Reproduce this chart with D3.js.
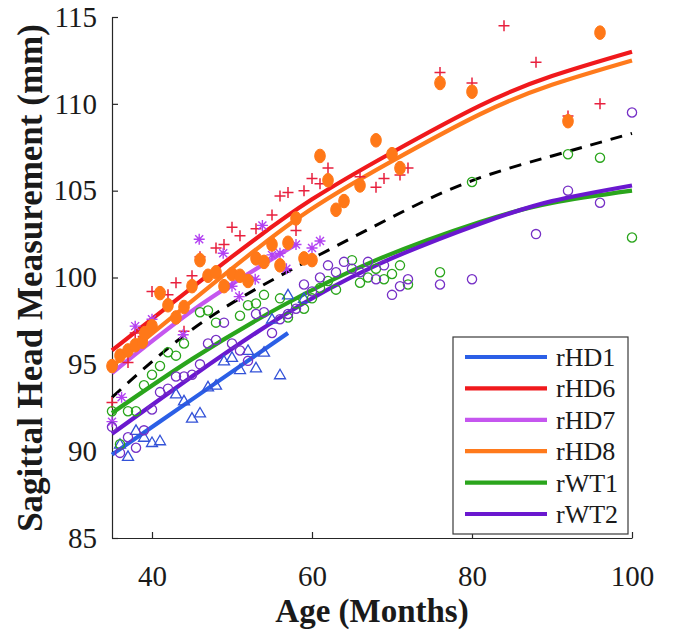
<!DOCTYPE html>
<html><head><meta charset="utf-8">
<script src="https://cdn.jsdelivr.net/npm/d3@7"></script>
<style>body{margin:0;background:#fff}</style>
</head><body>
<svg id="c" width="683" height="631"></svg>
<script>
// ---------- data ----------
const xTicks = [40, 60, 80, 100];
const yTicks = [85, 90, 95, 100, 105, 110, 115];
const legendLabels = ["rHD1", "rHD6", "rHD7", "rHD8", "rWT1", "rWT2"];

// measurements (age in months, sagittal head size in mm)
const rHD1Age  = [36,37,38,39,40,41,43,44,45,46,47,48,49,50,51,52,53,54,55,56,57,59];
const rHD1Size = [90.4,89.7,91.2,90.8,90.5,90.6,93.3,92.9,91.9,92.2,93.7,93.8,95.2,95.4,94.7,95.8,94.8,95.7,97.6,94.4,99.0,98.8];

const rHD6Age  = [35,37,37.9,38.9,40,41,42,43,44,45,46,48,49,50,51,53,55,56,57,58,59,60,61,62,66,68,69,71,72,76,80,84,88,92,96];
const rHD6Size = [92.8,95.1,96.8,96.6,99.2,99.2,99.0,99.7,96.9,100.1,101.2,101.7,101.9,102.9,102.4,102.8,103.6,104.7,104.9,102.7,105.0,105.7,105.4,106.3,105.8,105.2,105.7,105.9,106.3,111.8,111.2,114.5,112.4,109.3,110.0];

const rHD7Age  = [35,36.2,37.9,40,43.9,45.9,48.9,50,50.9,52.9,53.8,55,56,56.8,58,60,61];
const rHD7Size = [91.7,93.1,97.2,97.6,96.7,102.2,101.4,99.5,98.9,99.9,103.0,101.3,101.4,100.5,101.9,101.7,102.1];

const rHD8Age  = [35,36,37,37.9,38.8,39.1,40,41,42,43,44,45,46,47,48,49,50,51,52,53,54,55,56,57,58,59,60,61,62,63,64,66,68,70,71,76,80,92,96];
const rHD8Size = [94.9,95.5,95.8,96.1,96.3,96.8,97.2,99.1,98.4,97.7,98.3,99.5,101.0,100.1,100.3,99.5,100.2,100.1,99.8,101.1,100.9,101.9,100.7,102.0,103.4,101.1,101.0,107.0,105.6,103.9,104.4,105.3,107.9,107.1,106.3,111.2,110.7,109.0,114.1];

const rWT1Age  = [35,36,37,38,39,40,41,42,43,44,46,47,48,51,52,53,54,56,57,58,59,60,61,62,63,65,66,67,68,69,70,71,72,76,80,92,96,100];
const rWT1Size = [92.3,90.4,92.3,92.3,93.8,94.4,94.9,95.7,95.5,96.2,98.0,98.1,97.4,97.8,98.4,98.5,99.0,98.8,97.7,98.5,98.2,98.8,99.4,99.8,99.3,101.0,99.7,100.0,100.5,99.9,100.2,100.7,99.6,100.3,105.5,107.1,106.9,102.3];

const rWT2Age  = [35,36,37,38,39,40,41,42,43,44,45,46,47,48,49,50,51,52,53,54,55,56,57,58,59,60,61,62,63,64,65,66,67,68,69,70,71,72,76,80,88,92,96,100];
const rWT2Size = [91.4,89.9,90.8,90.2,91.2,92.4,93.4,93.6,94.3,94.3,94.4,95.0,96.2,96.4,97.4,96.2,95.8,95.2,97.9,98.0,96.8,97.6,97.9,98.2,99.6,99.2,100.0,100.7,100.3,100.9,100.5,100.3,100.9,99.9,100.7,99.0,99.5,99.9,99.6,99.9,102.5,105.0,104.3,109.5];

// fitted growth curves (sampled from the figure)
const rHD1FitAge  = [35, 46, 57];
const rHD1FitSize = [89.8, 93.3, 96.8];
const rHD6FitAge  = [35, 50, 60, 70, 81, 90, 100];
const rHD6FitSize = [95.8, 101.2, 104.5, 107.2, 109.9, 111.6, 113.0];
const rHD7FitAge  = [35, 46, 58];
const rHD7FitSize = [94.5, 98.4, 101.9];
const rHD8FitAge  = [35, 47, 58.5, 70, 81, 90, 100];
const rHD8FitSize = [94.9, 99.4, 103.5, 106.7, 109.4, 111.1, 112.5];
const rWT1FitAge  = [35, 45, 56, 68, 81, 90, 100];
const rWT1FitSize = [92.2, 95.3, 98.3, 101.0, 103.2, 104.3, 105.0];
const rWT2FitAge  = [35, 45, 56, 68, 81, 90, 100];
const rWT2FitSize = [91.0, 94.3, 97.7, 100.7, 103.1, 104.4, 105.3];
const allFitAge   = [35, 45, 56, 68, 79, 90, 100];
const allFitSize  = [93.1, 97.0, 100.1, 103.0, 105.4, 107.0, 108.3];

// ---------- layout ----------
const x = d3.scaleLinear().domain([35, 100]).range([112, 632]);
const y = d3.scaleLinear().domain([85, 115]).range([538, 17]);
const svg = d3.select("#c");
const serif = "Liberation Serif, Times New Roman, serif";

const zip = (a, b) => a.map((v, i) => [v, b[i]]);
const series = [
  {name: "rHD1", line: "#2b5fe6", mark: "#3352d8", shape: "tri",   pts: zip(rHD1Age, rHD1Size), fit: zip(rHD1FitAge, rHD1FitSize)},
  {name: "rHD6", line: "#f0191c", mark: "#e8203e", shape: "plus",  pts: zip(rHD6Age, rHD6Size), fit: zip(rHD6FitAge, rHD6FitSize)},
  {name: "rHD7", line: "#c556ef", mark: "#b342f2", shape: "star",  pts: zip(rHD7Age, rHD7Size), fit: zip(rHD7FitAge, rHD7FitSize)},
  {name: "rHD8", line: "#ff7a1c", mark: "#ff7818", shape: "blob",  pts: zip(rHD8Age, rHD8Size), fit: zip(rHD8FitAge, rHD8FitSize)},
  {name: "rWT1", line: "#2aa51c", mark: "#2aa51c", shape: "circ",  pts: zip(rWT1Age, rWT1Size), fit: zip(rWT1FitAge, rWT1FitSize)},
  {name: "rWT2", line: "#6a18cf", mark: "#7630c6", shape: "circ",  pts: zip(rWT2Age, rWT2Size), fit: zip(rWT2FitAge, rWT2FitSize)}
];

// ---------- axes ----------
const xAxis = d3.axisBottom(x).tickValues(xTicks).tickSize(-6).tickSizeOuter(0).tickPadding(27);
const yAxis = d3.axisLeft(y).tickValues(yTicks).tickSize(-6).tickSizeOuter(0).tickPadding(15);
const gx = svg.append("g").attr("transform", "translate(0,538)").call(xAxis);
const gy = svg.append("g").attr("transform", "translate(112,0)").call(yAxis);
[gx, gy].forEach(g => {
  g.attr("font-family", serif).attr("font-size", 29);
  g.select(".domain").attr("stroke", "#262626").attr("stroke-width", 1.2);
  g.selectAll(".tick line").attr("stroke", "#262626").attr("stroke-width", 1.2);
  g.selectAll(".tick text").attr("fill", "#1a1a1a").style("font-family", serif).style("font-size", "29px");
});

// ---------- fitted lines ----------
const lineGen = d3.line().x(d => x(d[0])).y(d => y(d[1])).curve(d3.curveNatural);
const gLines = svg.append("g");
gLines.append("path").datum(zip(allFitAge, allFitSize))
  .attr("d", lineGen).attr("fill", "none").attr("stroke", "#000")
  .attr("stroke-width", 3).attr("stroke-dasharray", "12,9");
series.forEach(s => {
  gLines.append("path").datum(s.fit).attr("d", lineGen)
    .attr("fill", "none").attr("stroke", s.line).attr("stroke-width", 4.2).attr("stroke-linecap", "butt");
});

// ---------- markers ----------
const gPts = svg.append("g");
series.forEach(s => {
  const g = gPts.append("g");
  const sel = g.selectAll("g").data(s.pts).enter().append("g")
    .attr("transform", d => `translate(${x(d[0])},${y(d[1])})`);
  if (s.shape === "tri") {
    sel.append("path").attr("d", "M0,-5.5L5.5,4L-5.5,4Z").attr("fill", "none").attr("stroke", s.mark).attr("stroke-width", 1.3);
  } else if (s.shape === "plus") {
    sel.append("path").attr("d", "M-5.5,0H5.5M0,-5.5V5.5").attr("stroke", s.mark).attr("stroke-width", 1.5);
  } else if (s.shape === "star") {
    sel.append("path").attr("d", "M-5.5,0H5.5M0,-5.5V5.5M-4,-4L4,4M-4,4L4,-4").attr("stroke", s.mark).attr("stroke-width", 1.4);
  } else if (s.shape === "blob") {
    sel.append("ellipse").attr("rx", 5.3).attr("ry", 6.8).attr("fill", s.mark).attr("stroke", s.mark).attr("stroke-width", 1);
  } else {
    sel.append("circle").attr("r", 4.6).attr("fill", "none").attr("stroke", s.mark).attr("stroke-width", 1.3);
  }
});

// ---------- axis titles ----------
svg.append("text").attr("x", 372).attr("y", 622).attr("text-anchor", "middle")
  .style("font-family", serif).attr("font-weight", "bold").attr("font-size", 33).attr("fill", "#1a1a1a")
  .text("Age (Months)");
svg.append("text").attr("transform", "translate(42,278) rotate(-90)").attr("text-anchor", "middle")
  .style("font-family", serif).attr("font-weight", "bold").attr("font-size", 35).attr("fill", "#1a1a1a")
  .text("Sagittal Head Measurement (mm)");

// ---------- legend ----------
const lg = svg.append("g").attr("transform", "translate(453,337)");
lg.append("rect").attr("width", 175).attr("height", 197).attr("fill", "#fff").attr("stroke", "#3a3a3a").attr("stroke-width", 1.2);
legendLabels.forEach((name, i) => {
  const s = series.find(d => d.name === name);
  const yy = 20 + i * 31.4;
  lg.append("line").attr("x1", 12).attr("x2", 94).attr("y1", yy).attr("y2", yy)
    .attr("stroke", s.line).attr("stroke-width", 4.2);
  lg.append("text").attr("x", 103).attr("y", yy + 9).style("font-family", serif).attr("font-size", 26)
    .attr("fill", "#1a1a1a").text(name);
});
</script>
</body></html>
